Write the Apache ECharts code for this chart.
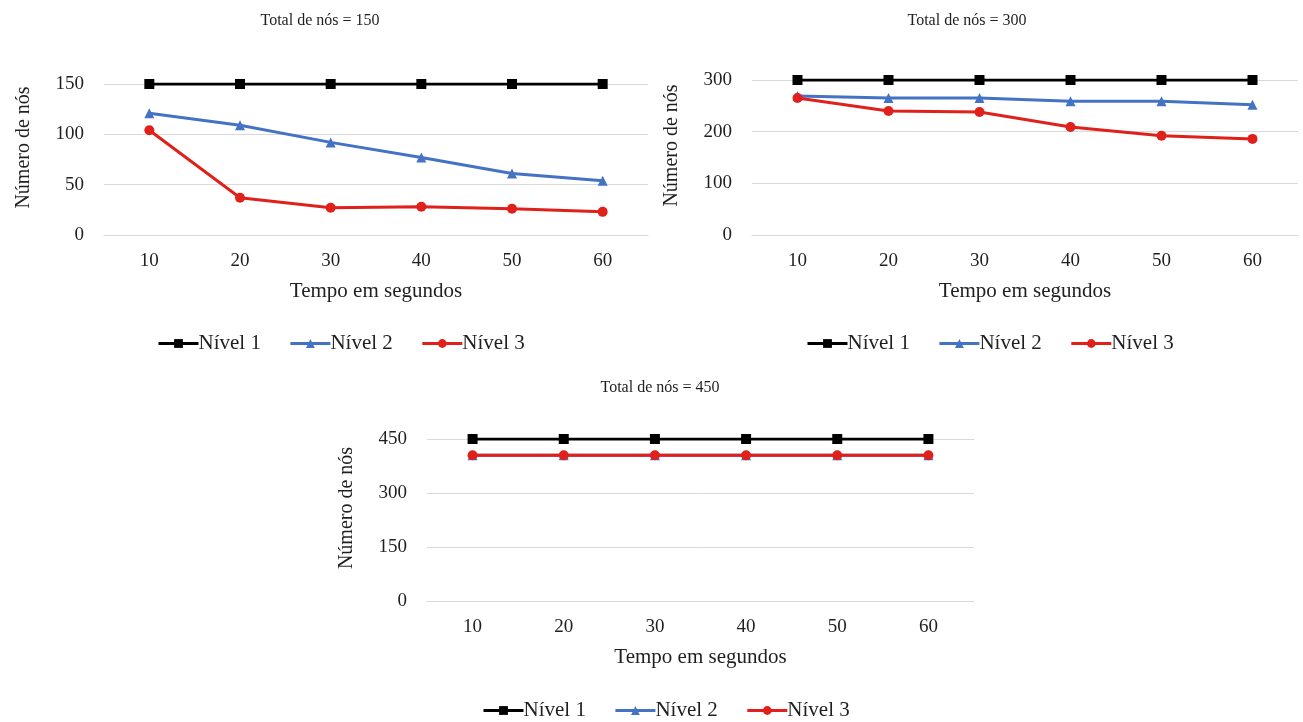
<!DOCTYPE html>
<html>
<head>
<meta charset="utf-8">
<script src="https://cdn.jsdelivr.net/npm/echarts@6/dist/echarts.min.js"></script>
<style>
  html, body { margin: 0; padding: 0; background: #fff; }
  #chart { width: 1303px; height: 722px; }
</style>
</head>
<body>
<div id="chart"></div>
<script>
// Time axis categories (seconds)
const tempos = ['10', '20', '30', '40', '50', '60'];
const seriesNames = ['Nível 1', 'Nível 2', 'Nível 3'];

// Total de nós = 150
const n150_nivel1 = [150, 150, 150, 150, 150, 150];
const n150_nivel2 = [121, 109, 92, 77, 61, 54];
const n150_nivel3 = [104, 37, 27, 28, 26, 23];

// Total de nós = 300
const n300_nivel1 = [300, 300, 300, 300, 300, 300];
const n300_nivel2 = [269, 265, 265, 259, 259, 252];
const n300_nivel3 = [265, 240, 238, 209, 192, 186];

// Total de nós = 450
const n450_nivel1 = [450, 450, 450, 450, 450, 450];
const n450_nivel2 = [405, 405, 405, 405, 405, 405];
const n450_nivel3 = [405, 405, 405, 405, 405, 405];

const titles = ['Total de nós = 150', 'Total de nós = 300', 'Total de nós = 450'];
const yMax = [150, 300, 450];
const yStep = [50, 100, 150];

const FONT = "'Liberation Serif', 'DejaVu Serif', serif";
const TXT = '#1f1f1f';
const colors = ['#000000', '#4472C4', '#E0201B'];
const symbols = ['rect', 'triangle', 'circle'];
const symbolSizes = [10, 10, 10];

const panels = [
  { grid: { left: 104, right: 655, top: 84, bottom: 487 }, data: [n150_nivel1, n150_nivel2, n150_nivel3],
    titleCenter: 315, titleTop: 8, legendLeft: 157, legendTop: 333 },
  { grid: { left: 752, right: 5, top: 80, bottom: 487 }, data: [n300_nivel1, n300_nivel2, n300_nivel3],
    titleCenter: 962, titleTop: 8, legendLeft: 806, legendTop: 333 },
  { grid: { left: 427, right: 329, top: 439, bottom: 121 }, data: [n450_nivel1, n450_nivel2, n450_nivel3],
    titleCenter: 655, titleTop: 375, legendLeft: 482, legendTop: 700 }
];

const option = {
  backgroundColor: '#fff',
  animation: false,
  textStyle: { fontFamily: FONT, color: TXT },
  title: panels.map((p, i) => ({
    text: titles[i],
    left: p.titleCenter,
    top: p.titleTop,
    textAlign: 'center',
    textStyle: { fontFamily: FONT, fontSize: 16, fontWeight: 'normal', color: TXT }
  })),
  legend: panels.map(p => ({
    data: seriesNames,
    left: p.legendLeft,
    top: p.legendTop,
    padding: 0,
    orient: 'horizontal',
    itemWidth: 40,
    itemHeight: 11,
    itemGap: 28,
    lineStyle: { width: 3 },
    textStyle: { fontFamily: FONT, fontSize: 21, color: TXT, padding: [0, 0, 0, -5] }
  })),
  grid: panels.map(p => p.grid),
  xAxis: panels.map((p, i) => ({
    type: 'category',
    gridIndex: i,
    data: tempos,
    boundaryGap: true,
    name: 'Tempo em segundos',
    nameLocation: 'middle',
    nameGap: 46,
    nameTextStyle: { fontFamily: FONT, fontSize: 21, color: TXT },
    axisLine: { show: true, lineStyle: { color: '#d9d9d9', width: 1 } },
    axisTick: { show: false },
    axisLabel: { fontFamily: FONT, fontSize: 19, color: TXT, margin: 17 }
  })),
  yAxis: panels.map((p, i) => ({
    type: 'value',
    gridIndex: i,
    min: 0,
    max: yMax[i],
    interval: yStep[i],
    name: 'Número de nós',
    nameLocation: 'middle',
    nameGap: 70,
    nameTextStyle: { fontFamily: FONT, fontSize: 20, color: TXT, padding: [0, 0, 0, 24] },
    axisLine: { show: false },
    axisTick: { show: false },
    splitLine: { show: true, lineStyle: { color: '#d9d9d9', width: 1 } },
    axisLabel: { fontFamily: FONT, fontSize: 19, color: TXT, margin: 20 }
  })),
  series: []
};

panels.forEach((p, gi) => {
  seriesNames.forEach((name, si) => {
    option.series.push({
      type: 'line',
      name: name,
      xAxisIndex: gi,
      yAxisIndex: gi,
      data: p.data[si],
      color: colors[si],
      symbol: symbols[si],
      symbolSize: symbolSizes[si],
      showAllSymbol: true,
      lineStyle: { width: 3, color: colors[si] },
      itemStyle: { color: colors[si] },
      z: 2 + si
    });
  });
});

const chart = echarts.init(document.getElementById('chart'), null, { renderer: 'canvas' });
chart.setOption(option);
</script>
</body>
</html>
